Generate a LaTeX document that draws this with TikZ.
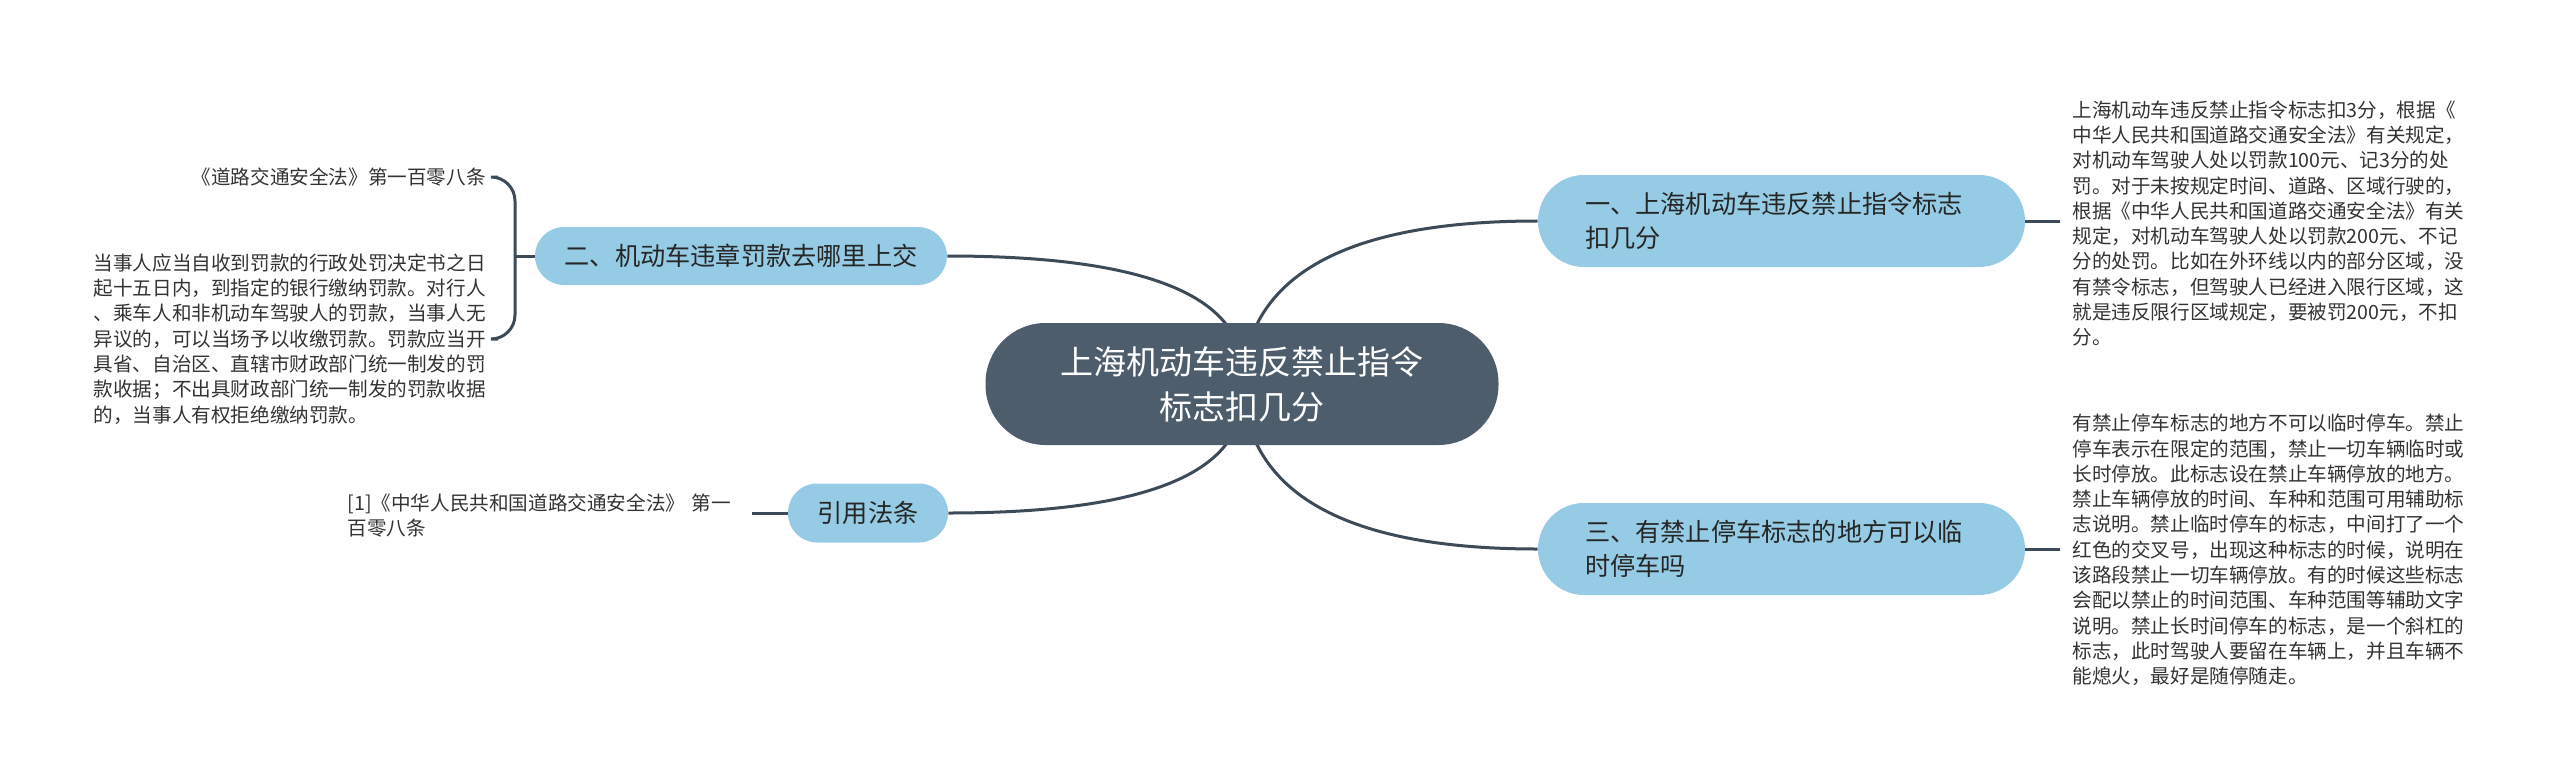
\documentclass[tikz,border=0pt]{standalone}
\usepackage{fontspec}
\setmainfont{Noto Sans CJK SC}
\usepackage{tikz}
\usetikzlibrary{calc, backgrounds}
\definecolor{rootgray}{HTML}{4E5D6C}
\definecolor{branchblue}{HTML}{95CBE4}
\definecolor{linegray}{HTML}{3D4B59}
\definecolor{textgray}{HTML}{333333}

\begin{document}
\begin{tikzpicture}[x=0.5pt, y=-0.5pt, link/.style={draw=linegray, line width=1.5pt}]
\def\branchfont{\fontsize{12.6}{17}\selectfont}
\def\leaffont{\fontsize{9.8}{12.65}\selectfont}
\useasboundingbox (0,0) rectangle (2560,782);

%Root
\node (root) at (1242,384) [fill=rootgray, rounded corners=30pt, minimum width=256.5pt, minimum height=61pt, align=center, text=white, font=\fontsize{16.5}{22.5}\selectfont] {上海机动车违反禁止指令\\标志扣几分};

%Branches
\node (b1) at (1781.5,221) [fill=branchblue, rounded corners=23pt, minimum height=46pt, text width=196.5pt, inner xsep=23.5pt, align=left, text=black!85, font=\branchfont] {一、上海机动车违反禁止指令标志\\扣几分};
\node (b3) at (1781.5,549) [fill=branchblue, rounded corners=23pt, minimum height=46pt, text width=196.5pt, inner xsep=23.5pt, align=left, text=black!85, font=\branchfont] {三、有禁止停车标志的地方可以临\\时停车吗};
\node (b2) at (741,256) [fill=branchblue, rounded corners=14.5pt, minimum width=206pt, minimum height=29pt, align=center, text=black!85, font=\branchfont] {二、机动车违章罚款去哪里上交};
\node (b4) at (868,513) [fill=branchblue, rounded corners=14.5pt, minimum width=80pt, minimum height=29.5pt, align=center, text=black!85, font=\branchfont] {引用法条};

%Leaves
\node (r1) at (2060,223.5) [anchor=west, inner xsep=6pt, inner ysep=0pt, align=left, text=textgray, font=\leaffont] {上海机动车违反禁止指令标志扣3分，根据《\\中华人民共和国道路交通安全法》有关规定，\\对机动车驾驶人处以罚款100元、记3分的处\\罚。对于未按规定时间、道路、区域行驶的，\\根据《中华人民共和国道路交通安全法》有关\\规定，对机动车驾驶人处以罚款200元、不记\\分的处罚。比如在外环线以内的部分区域，没\\有禁令标志，但驾驶人已经进入限行区域，这\\就是违反限行区域规定，要被罚200元，不扣\\分。};
\node (r3) at (2060,550) [anchor=west, inner xsep=6pt, inner ysep=0pt, align=left, text=textgray, font=\leaffont] {有禁止停车标志的地方不可以临时停车。禁止\\停车表示在限定的范围，禁止一切车辆临时或\\长时停放。此标志设在禁止车辆停放的地方。\\禁止车辆停放的时间、车种和范围可用辅助标\\志说明。禁止临时停车的标志，中间打了一个\\红色的交叉号，出现这种标志的时候，说明在\\该路段禁止一切车辆停放。有的时候这些标志\\会配以禁止的时间范围、车种范围等辅助文字\\说明。禁止长时间停车的标志，是一个斜杠的\\标志，此时驾驶人要留在车辆上，并且车辆不\\能熄火，最好是随停随走。};
\node (l1) at (498,177) [anchor=east, inner xsep=6pt, inner ysep=0pt, align=left, text=textgray, font=\leaffont] {《道路交通安全法》第一百零八条};
\node (l2) at (498,339) [anchor=east, inner xsep=6pt, inner ysep=0pt, align=left, text=textgray, font=\leaffont] {当事人应当自收到罚款的行政处罚决定书之日\\起十五日内，到指定的银行缴纳罚款。对行人\\、乘车人和非机动车驾驶人的罚款，当事人无\\异议的，可以当场予以收缴罚款。罚款应当开\\具省、自治区、直辖市财政部门统一制发的罚\\款收据；不出具财政部门统一制发的罚款收据\\的，当事人有权拒绝缴纳罚款。};
\node (l3) at (752,515.5) [anchor=east, inner xsep=6pt, inner ysep=0pt, text width=196pt, align=left, text=textgray, font=\leaffont] {[1]《中华人民共和国道路交通安全法》 第一\\百零八条};

%Links
\begin{scope}[on background layer]
\coordinate (k1) at (1250,221);
\coordinate (k3) at (1250,549);
\coordinate (k2) at (1256,256);
\coordinate (k4) at (1256,513);
\draw[link] (root.center) .. controls ($(root.center)!0.667!(k1)$) and ($(b1.west)!0.667!(k1)$) .. (b1.west);
\draw[link] (root.center) .. controls ($(root.center)!0.667!(k3)$) and ($(b3.west)!0.667!(k3)$) .. (b3.west);
\draw[link] (root.center) .. controls ($(root.center)!0.667!(k2)$) and ($(b2.east)!0.667!(k2)$) .. (b2.east);
\draw[link] (root.center) .. controls ($(root.center)!0.667!(k4)$) and ($(b4.east)!0.667!(k4)$) .. (b4.east);
\end{scope}

\draw[link] (b1.east) -- (b1.east -| r1.west);
\draw[link] (b3.east) -- (b3.east -| r3.west);
\coordinate (fork) at (515,256);
\draw[link] (b2.west) -- (fork);
\draw[link, rounded corners=12pt] (l1.east) -| (fork) |- (l2.east);
\draw[link] (b4.west) -- (b4.west -| l3.east);

\end{tikzpicture}
\end{document}
